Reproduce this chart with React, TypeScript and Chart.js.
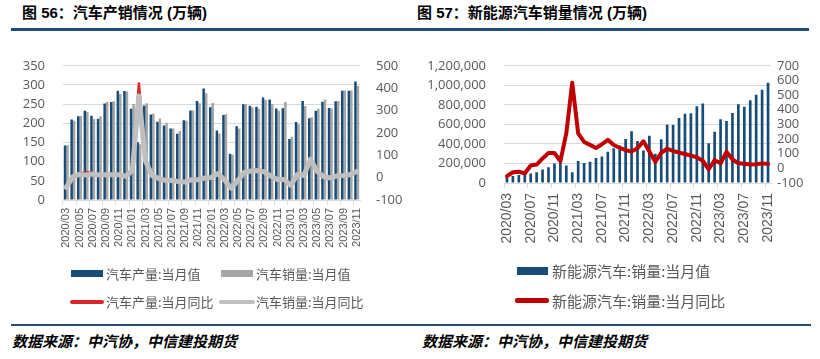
import React, { useEffect, useRef } from 'react';
import { Chart, registerables } from 'chart.js';

Chart.register(...registerables);

const months = [
  '2020/03', '2020/04', '2020/05', '2020/06', '2020/07', '2020/08', '2020/09', '2020/10', '2020/11', '2020/12',
  '2021/01', '2021/02', '2021/03', '2021/04', '2021/05', '2021/06', '2021/07', '2021/08', '2021/09', '2021/10', '2021/11', '2021/12',
  '2022/01', '2022/02', '2022/03', '2022/04', '2022/05', '2022/06', '2022/07', '2022/08', '2022/09', '2022/10', '2022/11', '2022/12',
  '2023/01', '2023/02', '2023/03', '2023/04', '2023/05', '2023/06', '2023/07', '2023/08', '2023/09', '2023/10', '2023/11',
];

// 汽车产量:当月值 (万辆)
const prodValue = [
  142.2, 210.2, 218.7, 232.5, 219.5, 211.9, 252.0, 255.3, 284.7, 284.0,
  238.2, 150.3, 246.4, 223.3, 204.0, 194.3, 186.3, 172.5, 207.7, 233.1, 258.3, 290.7,
  242.1, 181.4, 221.6, 120.5, 192.6, 249.9, 245.5, 243.2, 267.3, 262.4, 238.8, 239.4,
  159.4, 203.2, 258.4, 213.3, 233.0, 256.1, 240.1, 257.5, 285.0, 284.9, 309.3,
];

// 汽车销量:当月值 (万辆)
const salesValue = [
  143.1, 207.0, 219.4, 230.0, 211.2, 218.6, 256.5, 257.3, 276.5, 283.1,
  250.3, 145.5, 252.6, 225.2, 212.8, 201.5, 186.4, 179.9, 206.7, 233.2, 252.2, 278.6,
  253.1, 173.7, 223.4, 118.1, 186.2, 250.2, 242.0, 238.3, 261.0, 250.5, 232.6, 255.6,
  164.9, 197.6, 245.1, 215.9, 238.2, 262.2, 238.7, 258.2, 285.8, 285.3, 297.0,
];

// 汽车产量:当月同比 (%)
const prodYoY = [
  -44.5, 2.3, 18.2, 22.5, 21.9, 6.3, 13.2, 11.0, 10.3, 5.7,
  34.6, 420.4, 73.1, 6.3, -6.8, -16.5, -15.1, -19.1, -17.9, -8.9, -9.2, 2.4,
  1.4, 20.6, -9.1, -46.1, -5.7, 28.2, 31.5, 38.3, 28.1, 11.1, -7.9, -17.6,
  -34.1, 11.9, 15.3, 76.0, 20.9, 2.5, -2.2, 5.9, 6.6, 8.6, 29.5,
];

// 汽车销量:当月同比 (%)
const salesYoY = [
  -43.3, 4.4, 14.5, 11.6, 16.4, 11.6, 12.8, 12.5, 12.6, 6.4,
  29.5, 364.8, 74.9, 8.6, -3.1, -12.4, -11.9, -17.8, -19.6, -9.4, -9.1, -1.6,
  0.9, 18.7, -11.7, -47.6, -12.6, 23.8, 29.7, 32.1, 25.7, 6.9, -7.9, -8.4,
  -35.0, 13.5, 9.7, 82.7, 27.9, 4.8, -1.4, 8.4, 9.5, 13.8, 27.4,
];

// 新能源汽车:销量:当月值
const nevSales = [
  53000, 72000, 82000, 104000, 98000, 109000, 138000, 160000, 200000, 248000,
  179000, 110000, 226000, 206000, 217000, 256000, 271000, 321000, 357000, 383000, 450000, 531000,
  431000, 334000, 484000, 299000, 447000, 596000, 593000, 666000, 708000, 714000, 786000, 814000,
  408000, 525000, 653000, 636000, 717000, 806000, 780000, 846000, 904000, 956000, 1026000,
];

// 新能源汽车:销量:当月同比 (%)
const nevYoY = [
  -53.2, -26.5, -23.5, -34.8, 19.3, 25.8, 67.7, 104.5, 104.9, 49.5,
  238.5, 585.0, 238.9, 180.3, 160.0, 139.3, 164.4, 194.9, 159.1, 140.4, 124.8, 114.1,
  138.1, 184.4, 114.4, 44.6, 105.2, 133.8, 118.6, 107.3, 98.2, 86.5, 75.6, 51.8,
  -6.3, 55.9, 34.8, 112.8, 60.2, 35.2, 31.6, 27.0, 27.7, 33.9, 30.5,
];

const leftAxisTicks = { min: 0, max: 350, step: 50 };
const leftRightAxisTicks = { min: -100, max: 500, step: 100 };
const rightAxisTicks = { min: 0, max: 1200000, step: 200000 };
const rightRightAxisTicks = { min: -100, max: 700, step: 100 };

const BLUE = '#174B78';
const GRAY_BAR = '#A6A6A6';
const GRAY_LINE = '#BFBFBF';
const RED_LEFT = '#D9262C';
const RED_RIGHT = '#C00000';
const TEXT = '#595959';
const GRID = '#D9D9D9';
const RULE = '#1F4E79';

const yTickFont = { family: '"Open Sans", "DejaVu Sans", sans-serif', size: 13 };

function leftConfig(): any {
  return {
    type: 'bar',
    data: {
      labels: months,
      datasets: [
        {
          type: 'line', label: '汽车销量:当月同比', data: salesYoY, yAxisID: 'y1',
          borderColor: GRAY_LINE, borderWidth: 5, pointRadius: 0, order: 0,
          borderJoinStyle: 'round', borderCapStyle: 'round', tension: 0,
        },
        {
          type: 'line', label: '汽车产量:当月同比', data: prodYoY, yAxisID: 'y1',
          borderColor: RED_LEFT, borderWidth: 2.5, pointRadius: 0, order: 1,
          borderJoinStyle: 'round', borderCapStyle: 'round', tension: 0,
        },
        {
          type: 'bar', label: '汽车产量:当月值', data: prodValue, yAxisID: 'y',
          backgroundColor: BLUE, order: 2, categoryPercentage: 0.76, barPercentage: 1.0,
        },
        {
          type: 'bar', label: '汽车销量:当月值', data: salesValue, yAxisID: 'y',
          backgroundColor: GRAY_BAR, order: 3, categoryPercentage: 0.76, barPercentage: 1.0,
        },
      ],
    },
    options: {
      responsive: false,
      animation: false,
      layout: { padding: { top: 11, left: 0, right: 0, bottom: 0 } },
      plugins: { legend: { display: false }, tooltip: { enabled: false }, title: { display: false } },
      scales: {
        x: {
          type: 'category',
          offset: true,
          grid: {
            offset: true, drawOnChartArea: false, drawTicks: true, tickLength: 5,
            tickColor: (ctx: any) => (ctx.index !== undefined && ctx.index % 2 === 0 ? GRID : 'rgba(0,0,0,0)'),
          },
          border: { display: true, color: GRID },
          ticks: {
            autoSkip: false, maxRotation: 90, minRotation: 90, padding: 3, color: TEXT,
            font: { family: '"Liberation Sans", Arial, sans-serif', size: 11 },
            callback: (_v: any, i: number) => (i % 2 === 0 ? months[i] : ''),
          },
          afterFit: (s: any) => { s.height = 60; },
        },
        y: {
          position: 'left', min: leftAxisTicks.min, max: leftAxisTicks.max,
          ticks: { stepSize: leftAxisTicks.step, autoSkip: false, padding: 18, color: TEXT, font: yTickFont },
          grid: { color: GRID, drawTicks: false },
          border: { display: false },
          afterFit: (s: any) => { s.width = 63; },
        },
        y1: {
          position: 'right', min: leftRightAxisTicks.min, max: leftRightAxisTicks.max,
          ticks: { stepSize: leftRightAxisTicks.step, autoSkip: false, padding: 16, color: TEXT, font: yTickFont },
          grid: { drawOnChartArea: false, drawTicks: false },
          border: { display: false },
          afterFit: (s: any) => { s.width = 50; },
        },
      },
    },
  };
}

function rightConfig(): any {
  return {
    type: 'bar',
    data: {
      labels: months,
      datasets: [
        {
          type: 'line', label: '新能源汽车:销量:当月同比', data: nevYoY, yAxisID: 'y1',
          borderColor: RED_RIGHT, borderWidth: 4, pointRadius: 0, order: 0,
          borderJoinStyle: 'round', borderCapStyle: 'round', tension: 0,
        },
        {
          type: 'bar', label: '新能源汽车:销量:当月值', data: nevSales, yAxisID: 'y',
          backgroundColor: BLUE, order: 1, categoryPercentage: 0.9, barPercentage: 0.5,
        },
      ],
    },
    options: {
      responsive: false,
      animation: false,
      layout: { padding: { top: 9, left: 0, right: 0, bottom: 0 } },
      plugins: { legend: { display: false }, tooltip: { enabled: false }, title: { display: false } },
      scales: {
        x: {
          type: 'category',
          offset: true,
          grid: {
            offset: true, drawOnChartArea: false, drawTicks: true, tickLength: 5,
            tickColor: (ctx: any) => (ctx.index !== undefined && ctx.index % 4 === 0 ? GRID : 'rgba(0,0,0,0)'),
          },
          border: { display: true, color: GRID },
          ticks: {
            autoSkip: false, maxRotation: 90, minRotation: 90, padding: 5, color: TEXT,
            font: { family: '"Liberation Sans", Arial, sans-serif', size: 14 },
            callback: (_v: any, i: number) => (i % 4 === 0 ? months[i] : ''),
          },
          afterFit: (s: any) => { s.height = 77; },
        },
        y: {
          position: 'left', min: rightAxisTicks.min, max: rightAxisTicks.max,
          ticks: {
            stepSize: rightAxisTicks.step, autoSkip: false, padding: 18, color: TEXT, font: yTickFont,
            callback: (v: any) => Number(v).toLocaleString('en-US'),
          },
          grid: { color: GRID, drawTicks: false },
          border: { display: false },
          afterFit: (s: any) => { s.width = 94; },
        },
        y1: {
          position: 'right', min: rightRightAxisTicks.min, max: rightRightAxisTicks.max,
          ticks: { stepSize: rightRightAxisTicks.step, autoSkip: false, padding: 6, color: TEXT, font: yTickFont },
          grid: { drawOnChartArea: false, drawTicks: false },
          border: { display: false },
          afterFit: (s: any) => { s.width = 49; },
        },
      },
    },
  };
}

const cjk = '"Noto Sans CJK SC", "Noto Sans", sans-serif';
const titleFont = '"Liberation Sans", "Noto Sans CJK SC", sans-serif';

function Swatch(props: { x: number; cy: number; w: number; h: number; color: string; round?: boolean }) {
  const { x, cy, w, h, color, round } = props;
  return (
    <div style={{
      position: 'absolute', left: x, top: cy - h / 2, width: w, height: h,
      background: color, borderRadius: round ? h / 2 : 0,
    }} />
  );
}

function Label(props: { x: number; cy: number; size: number; text: string }) {
  const { x, cy, size, text } = props;
  return (
    <div style={{
      position: 'absolute', left: x, top: cy - 12, height: 24, lineHeight: '24px',
      fontFamily: cjk, fontSize: size, color: TEXT, whiteSpace: 'nowrap',
    }}>{text}</div>
  );
}

export default function App() {
  const leftRef = useRef<HTMLCanvasElement>(null);
  const rightRef = useRef<HTMLCanvasElement>(null);

  useEffect(() => {
    const c1 = new Chart(leftRef.current as HTMLCanvasElement, leftConfig());
    const c2 = new Chart(rightRef.current as HTMLCanvasElement, rightConfig());
    return () => { c1.destroy(); c2.destroy(); };
  }, []);

  return (
    <div style={{ position: 'absolute', left: 0, top: 0, width: 820, height: 359, background: '#fff', overflow: 'hidden' }}>
      {/* titles */}
      <div style={{ position: 'absolute', left: 22, top: 2, height: 22, lineHeight: '22px', fontFamily: titleFont, fontWeight: 700, fontSize: 15, color: '#000', whiteSpace: 'nowrap' }}>
        图 56：汽车产销情况 (万辆)
      </div>
      <div style={{ position: 'absolute', left: 417, top: 2, height: 22, lineHeight: '22px', fontFamily: titleFont, fontWeight: 700, fontSize: 15, color: '#000', whiteSpace: 'nowrap' }}>
        图 57：新能源汽车销量情况 (万辆)
      </div>
      {/* rules */}
      <div style={{ position: 'absolute', left: 11, top: 28, width: 798, height: 2.5, background: RULE }} />
      <div style={{ position: 'absolute', left: 11, top: 323.5, width: 800, height: 2.5, background: RULE }} />

      <canvas ref={leftRef} width={410} height={220} style={{ position: 'absolute', left: 0, top: 40, width: 410, height: 220 }} />
      <canvas ref={rightRef} width={410} height={220} style={{ position: 'absolute', left: 410, top: 40, width: 410, height: 220 }} />

      {/* left legend */}
      <Swatch x={71} cy={273.5} w={32} h={7} color={BLUE} />
      <Label x={106} cy={273.5} size={13} text="汽车产量:当月值" />
      <Swatch x={221} cy={273.5} w={32} h={7} color={GRAY_BAR} />
      <Label x={256} cy={273.5} size={13} text="汽车销量:当月值" />
      <Swatch x={70} cy={301.5} w={34} h={4} color={RED_LEFT} round />
      <Label x={106} cy={301.5} size={13} text="汽车产量:当月同比" />
      <Swatch x={219} cy={301.5} w={36} h={4} color={GRAY_LINE} round />
      <Label x={256} cy={301.5} size={13} text="汽车销量:当月同比" />

      {/* right legend */}
      <Swatch x={517} cy={270.7} w={31} h={8} color={BLUE} />
      <Label x={552} cy={270.7} size={15} text="新能源汽车:销量:当月值" />
      <Swatch x={515} cy={300.7} w={34} h={4.5} color={RED_RIGHT} round />
      <Label x={552} cy={300.7} size={15} text="新能源汽车:销量:当月同比" />

      {/* sources */}
      <div style={{ position: 'absolute', left: 12, top: 329, height: 24, lineHeight: '24px', fontFamily: cjk, fontWeight: 700, fontStyle: 'italic', fontSize: 15, color: '#000', whiteSpace: 'nowrap' }}>
        数据来源：中汽协，中信建投期货
      </div>
      <div style={{ position: 'absolute', left: 422, top: 329, height: 24, lineHeight: '24px', fontFamily: cjk, fontWeight: 700, fontStyle: 'italic', fontSize: 15, color: '#000', whiteSpace: 'nowrap' }}>
        数据来源：中汽协，中信建投期货
      </div>
    </div>
  );
}
